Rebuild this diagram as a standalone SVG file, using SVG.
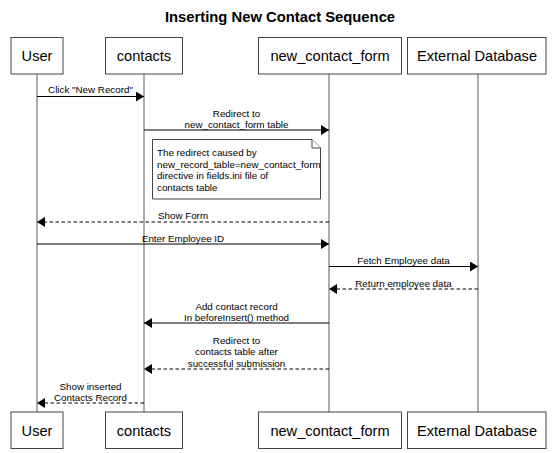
<svg xmlns="http://www.w3.org/2000/svg" width="557" height="453" viewBox="0 0 557 453">
<defs>
<style>
text{font-family:"Liberation Sans",Arial,Helvetica,sans-serif;fill:#000}
.title{font-size:14.8px;font-weight:bold;text-anchor:middle}
.actor rect{fill:#fff;stroke:#444;stroke-width:1}
.actor text{font-size:14.6px;text-anchor:middle}
.life{stroke:#777;stroke-width:1.2;fill:none}
.msg{stroke:#000;stroke-width:1;fill:none;marker-end:url(#ah)}
.dash{stroke-dasharray:3.5,2.5}
.lbl{font-size:9.8px;text-anchor:middle}
.note path{fill:#fff;stroke:#444;stroke-width:1}
.note text{font-size:9.8px}
</style>
<marker id="ah" markerUnits="userSpaceOnUse" markerWidth="8" markerHeight="10" refX="8" refY="5" orient="auto">
<path d="M0,0 L8,5 L0,10 Z" fill="#000"/>
</marker>
</defs>
<rect width="557" height="453" fill="#fff"/>
<text class="title" x="280" y="22">Inserting New Contact Sequence</text>

<g id="lifelines">
<line class="life" x1="37" y1="74" x2="37" y2="412"/>
<line class="life" x1="144" y1="74" x2="144" y2="412"/>
<line class="life" x1="329" y1="74" x2="329" y2="412"/>
<line class="life" x1="478" y1="74" x2="478" y2="412"/>
</g>

<g id="user-top" class="actor"><rect x="11" y="37.5" width="52" height="36.5"/><text x="37" y="60.8">User</text></g>
<g id="contacts-top" class="actor"><rect x="105.5" y="37.5" width="77" height="36.5"/><text x="144" y="60.8">contacts</text></g>
<g id="new_contact_form-top" class="actor"><rect x="258.5" y="37.5" width="143" height="36.5"/><text x="330" y="60.8">new_contact_form</text></g>
<g id="external_database-top" class="actor"><rect x="407.5" y="37.5" width="138.5" height="36.5"/><text x="477" y="60.8">External Database</text></g>

<g id="user-bottom" class="actor"><rect x="11" y="412" width="52" height="36.5"/><text x="37" y="435.5">User</text></g>
<g id="contacts-bottom" class="actor"><rect x="105.5" y="412" width="77" height="36.5"/><text x="144" y="435.5">contacts</text></g>
<g id="new_contact_form-bottom" class="actor"><rect x="258.5" y="412" width="143" height="36.5"/><text x="330" y="435.5">new_contact_form</text></g>
<g id="external_database-bottom" class="actor"><rect x="407.5" y="412" width="138.5" height="36.5"/><text x="477" y="435.5">External Database</text></g>

<g id="note" class="note">
<path d="M152.5,139.5 H312 L320.5,148 V199 H152.5 Z"/>
<path d="M312,139.5 V148 H320.5" fill="none"/>
<text x="157" y="156.3">The redirect caused by</text>
<text x="157" y="167.8">new_record_table=new_contact_form</text>
<text x="157" y="179.2">directive in fields.ini file of</text>
<text x="157" y="190.8">contacts table</text>
</g>

<g id="connectors">
<line class="msg" x1="37" y1="96.5" x2="144" y2="96.5"/>
<text class="lbl" x="90.5" y="93">Click "New Record"</text>

<line class="msg" x1="144" y1="130" x2="329" y2="130"/>
<text class="lbl" x="236.5" y="116.5">Redirect to</text>
<text class="lbl" x="236.5" y="127.5">new_contact_form table</text>

<line class="msg dash" x1="329" y1="222" x2="37" y2="222"/>
<text class="lbl" x="183" y="219">Show Form</text>

<line class="msg" x1="37" y1="244" x2="329" y2="244"/>
<text class="lbl" x="183" y="242">Enter Employee ID</text>

<line class="msg" x1="329" y1="266.5" x2="478" y2="266.5"/>
<text class="lbl" x="403.5" y="264">Fetch Employee data</text>

<line class="msg dash" x1="478" y1="289" x2="329" y2="289"/>
<text class="lbl" x="403.5" y="286.5">Return employee data</text>

<line class="msg" x1="329" y1="323" x2="144" y2="323"/>
<text class="lbl" x="236.5" y="309.5">Add contact record</text>
<text class="lbl" x="236.5" y="320.5">In beforeInsert() method</text>

<line class="msg dash" x1="329" y1="369" x2="144" y2="369"/>
<text class="lbl" x="236.5" y="343.5">Redirect to</text>
<text class="lbl" x="236.5" y="355">contacts table after</text>
<text class="lbl" x="236.5" y="366.5">successful submission</text>

<line class="msg dash" x1="144" y1="403" x2="37" y2="403"/>
<text class="lbl" x="90.5" y="389.5">Show inserted</text>
<text class="lbl" x="90.5" y="400.5">Contacts Record</text>
</g>
</svg>
